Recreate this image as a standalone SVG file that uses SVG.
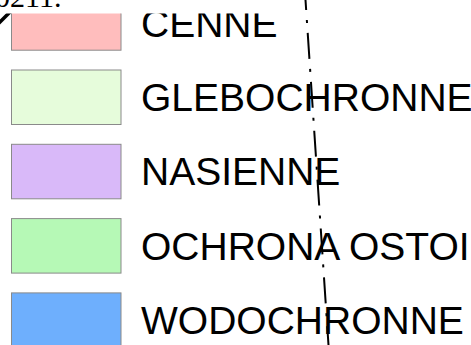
<svg xmlns="http://www.w3.org/2000/svg" width="471" height="345" viewBox="0 0 471 345">
<style>
.sw{stroke:#8a8a8a;stroke-width:1}
.lb{font-family:"Liberation Sans",Arial,sans-serif;font-size:39px;fill:#000}
</style>
<defs>
<clipPath id="clip"><rect x="0" y="13.5" width="471" height="332"/></clipPath>
</defs>
<rect width="471" height="345" fill="#fff"/>
<text x="-5" y="7" font-family="Liberation Serif,Times New Roman,serif" font-size="30">0211.</text>
<g clip-path="url(#clip)">
<line x1="-2" y1="24" x2="10" y2="12" stroke="#000" stroke-width="3.5"/>
<g id="cenne"><rect class="sw" x="11.5" y="-4.3" width="109.5" height="54.5" fill="#ffbdbd"/><text class="lb" x="141" y="37">CENNE</text></g>
<g id="glebochronne"><rect class="sw" x="11.5" y="70" width="109.5" height="54.5" fill="#e6fcdb"/><text class="lb" x="141" y="111">GLEBOCHRONNE</text></g>
<g id="nasienne"><rect class="sw" x="11.5" y="144.3" width="109.5" height="54.5" fill="#d9b9f9"/><text class="lb" x="141" y="185">NASIENNE</text></g>
<g id="ochrona"><rect class="sw" x="11.5" y="218.6" width="109.5" height="54.5" fill="#b6f9b6"/><text class="lb" x="141" y="260">OCHRONA OSTOI</text></g>
<g id="wodochronne"><rect class="sw" x="11.5" y="292.9" width="109.5" height="54.5" fill="#6eaffd"/><text class="lb" x="141" y="334">WODOCHRONNE</text></g>
</g>
<g id="connectors">
<line x1="305.5" y1="0" x2="328.5" y2="345" stroke="#000" stroke-width="2" stroke-dasharray="26,10,3,10" stroke-dashoffset="16"/>
</g>
</svg>
